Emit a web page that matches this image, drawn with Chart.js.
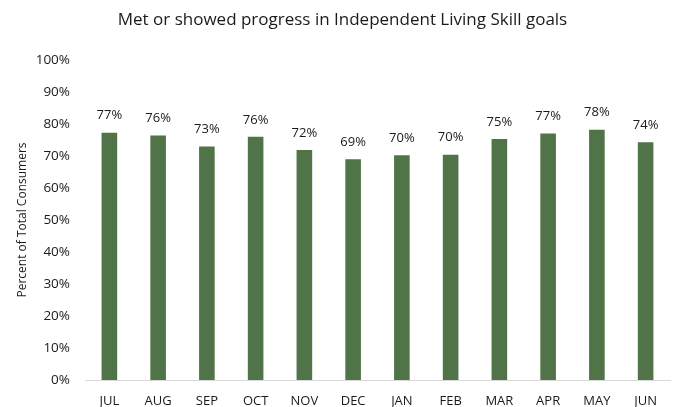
<!DOCTYPE html>
<html>
<head>
<meta charset="utf-8">
<script src="https://cdn.jsdelivr.net/npm/chart.js@4/dist/chart.umd.min.js"></script>
<style>
  html, body { margin: 0; padding: 0; background: #fff; }
  #wrap { width: 679px; height: 407px; position: relative; }
</style>
</head>
<body>
<div id="wrap"><canvas id="c"></canvas></div>
<script>
const months = ['JUL','AUG','SEP','OCT','NOV','DEC','JAN','FEB','MAR','APR','MAY','JUN'];
const percentMet = [77.3, 76.4, 73.0, 76.0, 71.9, 69.0, 70.2, 70.4, 75.3, 77.0, 78.2, 74.3];
const chartTitle = 'Met or showed progress in Independent Living Skill goals';
const yAxisTitle = 'Percent of Total Consumers';

const FONT = '"Open Sans", "Liberation Sans", sans-serif';
const TEXT = '#1a1a1a';

const barLabels = {
  id: 'barLabels',
  afterDatasetsDraw(chart) {
    const ctx = chart.ctx;
    const meta = chart.getDatasetMeta(0);
    ctx.save();
    ctx.font = '13px ' + FONT;
    ctx.fillStyle = TEXT;
    ctx.textAlign = 'center';
    ctx.textBaseline = 'middle';
    meta.data.forEach((bar, i) => {
      ctx.fillText(Math.round(percentMet[i]) + '%', bar.x, bar.y - 17);
    });
    ctx.restore();
  }
};

new Chart(document.getElementById('c'), {
  type: 'bar',
  data: {
    labels: months,
    datasets: [{
      data: percentMet,
      backgroundColor: '#507347',
      borderWidth: 0,
      barPercentage: 0.64,
      categoryPercentage: 0.5
    }]
  },
  options: {
    responsive: true,
    maintainAspectRatio: false,
    animation: false,
    layout: { padding: { left: 15, right: 9, top: 0, bottom: 0 } },
    plugins: {
      legend: { display: false },
      tooltip: { enabled: false },
      title: {
        display: true,
        text: chartTitle,
        color: TEXT,
        font: { family: FONT, size: 17, weight: 'normal' },
        padding: { top: 10, bottom: 29.6 }
      }
    },
    scales: {
      x: {
        grid: { display: false },
        border: { display: true, color: '#d9d9d9', width: 1 },
        ticks: { color: TEXT, font: { family: FONT, size: 13 }, padding: 5, maxRotation: 0 },
        afterFit(s) { s.height = 27; }
      },
      y: {
        min: 0, max: 100,
        grid: { display: false },
        border: { display: false },
        ticks: {
          stepSize: 10,
          color: TEXT,
          font: { family: FONT, size: 13.5 },
          padding: 7,
          callback: v => v + '%'
        },
        title: {
          display: true,
          text: yAxisTitle,
          color: TEXT,
          font: { family: FONT, size: 12 },
          padding: { top: 0, bottom: 0 }
        },
        afterFit(s) { s.width = 70; }
      }
    }
  },
  plugins: [barLabels]
});
</script>
</body>
</html>
